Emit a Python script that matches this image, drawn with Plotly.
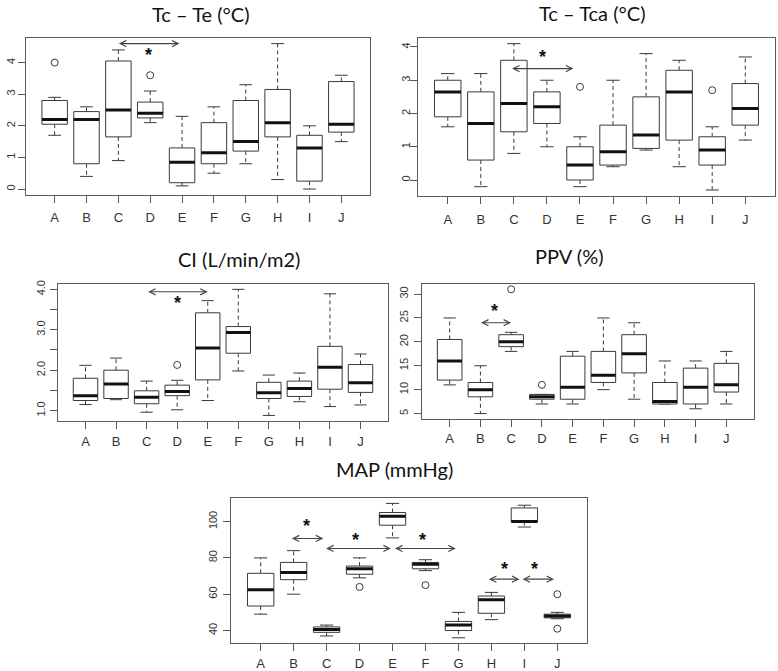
import plotly.graph_objects as go

W, H = 778, 671
cats = ["A", "B", "C", "D", "E", "F", "G", "H", "I", "J"]

# ---- Tc - Te (°C)
te_lo  = [1.7, 0.4, 0.9, 2.1, 0.1, 0.5, 0.8, 0.3, 0.0, 1.5]
te_q1  = [2.05, 0.8, 1.65, 2.25, 0.2, 0.8, 1.2, 1.65, 0.25, 1.8]
te_med = [2.2, 2.2, 2.5, 2.4, 0.85, 1.15, 1.5, 2.1, 1.3, 2.05]
te_q3  = [2.8, 2.45, 4.05, 2.75, 1.3, 2.1, 2.8, 3.15, 1.7, 3.4]
te_hi  = [2.9, 2.6, 4.4, 3.1, 2.3, 2.6, 3.3, 4.6, 2.0, 3.6]
te_out = [("A", 4.0), ("D", 3.6)]

# ---- Tc - Tca (°C)
tca_lo  = [1.6, -0.2, 0.8, 1.0, -0.2, 0.4, 0.9, 0.4, -0.3, 1.2]
tca_q1  = [1.9, 0.6, 1.45, 1.7, 0.0, 0.45, 0.95, 1.2, 0.45, 1.65]
tca_med = [2.65, 1.7, 2.3, 2.2, 0.45, 0.85, 1.35, 2.65, 0.9, 2.15]
tca_q3  = [3.0, 2.65, 3.6, 2.65, 1.0, 1.65, 2.5, 3.3, 1.3, 2.9]
tca_hi  = [3.2, 3.2, 4.1, 3.0, 1.3, 3.0, 3.8, 3.6, 1.6, 3.7]
tca_out = [("E", 2.8), ("I", 2.7)]

# ---- CI (L/min/m2)
ci_lo  = [1.15, 1.27, 0.96, 1.02, 1.25, 1.98, 0.88, 1.22, 1.10, 1.14]
ci_q1  = [1.25, 1.30, 1.17, 1.37, 1.76, 2.42, 1.30, 1.35, 1.53, 1.45]
ci_med = [1.37, 1.66, 1.33, 1.47, 2.55, 2.93, 1.44, 1.55, 2.07, 1.69]
ci_q3  = [1.80, 2.00, 1.49, 1.63, 3.42, 3.08, 1.70, 1.73, 2.59, 2.14]
ci_hi  = [2.12, 2.30, 1.73, 1.75, 3.72, 4.00, 1.88, 1.93, 3.89, 2.40]
ci_out = [("D", 2.13)]

# ---- PPV (%)
ppv_lo  = [11, 5, 18, 7, 7, 10, 8, 7, 6, 7]
ppv_q1  = [12, 8.5, 19, 8, 8, 11.5, 13.5, 7, 7, 9.5]
ppv_med = [16, 10, 20, 8.5, 10.5, 13, 17.5, 7.5, 10.5, 11]
ppv_q3  = [20.5, 11.5, 21.5, 9, 17, 18, 21.5, 11.5, 14.5, 15.5]
ppv_hi  = [25, 15, 22, 9, 18, 25, 24, 16, 16, 18]
ppv_out = [("C", 31), ("D", 11)]

# ---- MAP (mmHg)
map_lo  = [49, 60, 37, 69, 91, 73, 36, 46, 97, 46.5]
map_q1  = [53.5, 68, 39, 71, 98, 74, 40, 49.5, 100, 47]
map_med = [62.5, 72, 40.5, 74, 103, 76.5, 43, 57, 100, 48]
map_q3  = [71.5, 77.5, 42, 75.5, 105, 77.5, 45, 59, 107.5, 49]
map_hi  = [80, 84, 43, 80, 110, 79, 50, 61, 109, 50]
map_out = [("D", 64), ("F", 65), ("J", 60), ("J", 41)]

# significance arrows (from, to, level) and asterisks (x, level), in category units
te_arrows = [(2.97, 4.92, 4.6)]
te_stars = [(3.95, 4.24)]
tca_arrows = [(2.9, 4.8, 3.35)]
tca_stars = [(3.88, 3.7)]
ci_arrows = [(3.0, 5.0, 3.94)]
ci_stars = [(4.0, 3.66)]
ppv_arrows = [(1.97, 3.0, 24.0)]
ppv_stars = [(2.47, 26.4)]
map_arrows = [(1.9, 2.9, 90.7), (2.94, 4.95, 85.2), (5.03, 6.92, 85.2),
              (7.88, 8.85, 68.3), (8.9, 9.9, 68.3)]
map_stars = [(2.4, 97.4), (3.88, 90.1), (5.9, 90.1), (8.4, 73.7), (9.3, 73.7)]

panels = [
    dict(title="Tc – Te (°C)", lo=te_lo, q1=te_q1, med=te_med, q3=te_q3, hi=te_hi, out=te_out,
         arrows=te_arrows, stars=te_stars, box=(26, 370, 34, 192), tpos=(201, 10),
         xstand=4, ystand=-1,
         ticks=[0, 1, 2, 3, 4], labels=["0", "1", "2", "3", "4"]),
    dict(title="Tc – Tca (°C)", lo=tca_lo, q1=tca_q1, med=tca_med, q3=tca_q3, hi=tca_hi, out=tca_out,
         arrows=tca_arrows, stars=tca_stars, box=(418, 775, 34, 193), tpos=(592, 9),
         xstand=5, ystand=-4,
         ticks=[0, 1, 2, 3, 4], labels=["0", "1", "2", "3", "4"]),
    dict(title="CI (L/min/m2)", lo=ci_lo, q1=ci_q1, med=ci_med, q3=ci_q3, hi=ci_hi, out=ci_out,
         arrows=ci_arrows, stars=ci_stars, box=(58, 388, 282, 419), tpos=(239, 257),
         xstand=2, ystand=1,
         ticks=[1.0, 1.5, 2.0, 2.5, 3.0, 3.5, 4.0], labels=["1.0", "", "2.0", "", "3.0", "", "4.0"]),
    dict(title="PPV (%)", lo=ppv_lo, q1=ppv_q1, med=ppv_med, q3=ppv_q3, hi=ppv_hi, out=ppv_out,
         arrows=ppv_arrows, stars=ppv_stars, box=(422, 754, 282, 417), tpos=(569, 254),
         xstand=1, ystand=2,
         ticks=[5, 10, 15, 20, 25, 30], labels=["5", "10", "15", "20", "25", "30"]),
    dict(title="MAP (mmHg)", lo=map_lo, q1=map_q1, med=map_med, q3=map_q3, hi=map_hi, out=map_out,
         arrows=map_arrows, stars=map_stars, box=(231, 587, 497, 643), tpos=(394, 468),
         xstand=1, ystand=2,
         ticks=[40, 60, 80, 100], labels=["40", "60", "80", "100"]),
]

LINE = "#3a3a3a"
FRAME = "#5a5a5a"
XFONT = dict(family="Liberation Sans, Arial, sans-serif", size=13, color="#333333")
YFONT = dict(family="Liberation Sans, Arial, sans-serif", size=11, color="#333333")
BW = 0.4   # half box width (category units)
CW = 0.2   # half cap width


def px_x(v):
    return v / W


def px_y(v):
    return 1 - v / H


fig = go.Figure()
annotations = []
layout = {}

for k, p in enumerate(panels, start=1):
    xa = "x" if k == 1 else f"x{k}"
    ya = "y" if k == 1 else f"y{k}"
    pos = list(range(1, len(cats) + 1))

    bx, by, mx, my, wx, wy, cx, cy = [], [], [], [], [], [], [], []
    for i, lo, q1, md, q3, hi in zip(pos, p["lo"], p["q1"], p["med"], p["q3"], p["hi"]):
        bx += [i - BW, i + BW, i + BW, i - BW, i - BW, None]
        by += [q1, q1, q3, q3, q1, None]
        mx += [i - BW, i + BW, None]
        my += [md, md, None]
        wx += [i, i, None, i, i, None]
        wy += [q3, hi, None, q1, lo, None]
        cx += [i - CW, i + CW, None, i - CW, i + CW, None]
        cy += [hi, hi, None, lo, lo, None]

    common = dict(xaxis=xa, yaxis=ya, showlegend=False, hoverinfo="skip")
    fig.add_trace(go.Scatter(x=wx, y=wy, mode="lines",
                             line=dict(color=LINE, width=1, dash="4px,3px"), **common))
    fig.add_trace(go.Scatter(x=cx, y=cy, mode="lines", line=dict(color=LINE, width=1), **common))
    fig.add_trace(go.Scatter(x=bx, y=by, mode="lines", fill="toself", fillcolor="white",
                             line=dict(color=LINE, width=1), **common))
    fig.add_trace(go.Scatter(x=mx, y=my, mode="lines", line=dict(color="#111111", width=3), **common))
    ox = [cats.index(c) + 1 for c, _ in p["out"]]
    oy = [v for _, v in p["out"]]
    fig.add_trace(go.Scatter(x=ox, y=oy, mode="markers",
                             marker=dict(symbol="circle-open", size=7, color=LINE,
                                         line=dict(width=1, color=LINE)), **common))

    allv = p["lo"] + p["hi"] + oy
    vmin, vmax = min(allv), max(allv)
    pad = 0.04 * (vmax - vmin)

    l, r, t, b = p["box"]
    layout["xaxis" if k == 1 else f"xaxis{k}"] = dict(
        domain=[px_x(l), px_x(r)], anchor=ya, range=[0.1, 10.9],
        tickvals=pos, ticktext=cats, showline=True, mirror=True, linecolor=FRAME, linewidth=1,
        ticks="outside", ticklen=7, tickcolor=FRAME, tickwidth=1, showgrid=False, zeroline=False,
        tickfont=XFONT, ticklabelstandoff=p["xstand"], fixedrange=True)
    layout["yaxis" if k == 1 else f"yaxis{k}"] = dict(
        domain=[px_y(b), px_y(t)], anchor=xa, range=[vmin - pad, vmax + pad],
        tickvals=p["ticks"], ticktext=p["labels"], tickangle=-90,
        showline=True, mirror=True, linecolor=FRAME, linewidth=1,
        ticks="outside", ticklen=7, tickcolor=FRAME, tickwidth=1, showgrid=False, zeroline=False,
        tickfont=YFONT, ticklabelstandoff=p["ystand"], fixedrange=True)

    tx, ty = p["tpos"]
    annotations.append(dict(text=p["title"], x=px_x(tx), y=px_y(ty), xref="paper", yref="paper",
                            xanchor="center", yanchor="middle", showarrow=False,
                            font=dict(family="Lato, Open Sans, sans-serif", size=20, color="#111111")))
    for x0, x1, lev in p["arrows"]:
        annotations.append(dict(text="", x=x1, y=lev, ax=x0, ay=lev, xref=xa, yref=ya,
                                axref=xa, ayref=ya, showarrow=True, arrowside="end+start",
                                arrowhead=5, startarrowhead=5, arrowsize=1.1, startarrowsize=1.1,
                                arrowwidth=1.1, arrowcolor="#444444", standoff=0, startstandoff=0))
    for sx, sy in p["stars"]:
        annotations.append(dict(text="<b>*</b>", x=sx, y=sy, xref=xa, yref=ya, showarrow=False,
                                xanchor="center", yanchor="middle", yshift=0,
                                font=dict(family="Liberation Sans, Arial, sans-serif", size=18,
                                          color="#111111")))

fig.update_layout(
    width=W, height=H, margin=dict(l=0, r=0, t=0, b=0),
    paper_bgcolor="white", plot_bgcolor="white", hovermode=False,
    annotations=annotations, **layout)

fig.write_html("out.html", config={"displayModeBar": False, "staticPlot": True},
               post_script="document.body.style.margin='0px';")
